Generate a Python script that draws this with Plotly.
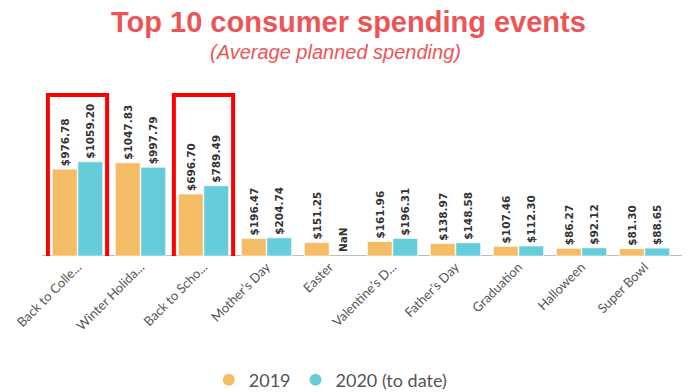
import plotly.graph_objects as go

categories = ["Back to Colle...", "Winter Holida...", "Back to Scho...", "Mother\u2019s Day", "Easter",
              "Valentine\u2019s D...", "Father\u2019s Day", "Graduation", "Halloween", "Super Bowl"]
spend_2019 = [976.78, 1047.83, 696.70, 196.47, 151.25, 161.96, 138.97, 107.46, 86.27, 81.30]
spend_2020 = [1059.20, 997.79, 789.49, 204.74, None, 196.31, 148.58, 112.30, 92.12, 88.65]
series_names = ["2019", "2020 (to date)"]
highlighted = ["Back to Colle...", "Back to Scho..."]

ORANGE = "#F5BC66"
TEAL = "#66CCD9"
RED_TITLE = "#EC5558"
LABEL_FONT = dict(family="DejaVu Sans", size=10.5, color="#333333", weight="bold")


def fmt(v):
    return "NaN" if v is None else f"${v:.2f}"


fig = go.Figure()
for name, vals, col in [(series_names[0], spend_2019, ORANGE), (series_names[1], spend_2020, TEAL)]:
    fig.add_trace(go.Bar(
        x=categories, y=vals, name=name, showlegend=False,
        marker=dict(color=col, line=dict(color="rgba(255,255,255,0.6)", width=1)),
        text=[fmt(v) for v in vals], textposition="outside", textangle=-90,
        constraintext="none", textfont=LABEL_FONT, cliponaxis=False,
    ))
    fig.add_trace(go.Scatter(
        x=[None], y=[None], mode="markers", name=name,
        marker=dict(color=col, size=16, symbol="circle"),
    ))

for cat, v in zip(categories, spend_2020):
    if v is None:
        fig.add_annotation(x=cat, y=0, text="NaN", showarrow=False, textangle=-90,
                           xshift=13, yanchor="bottom", yshift=2, font=LABEL_FONT)

for cat in highlighted:
    i = categories.index(cat)
    fig.add_shape(type="rect", xref="x", yref="y", x0=i - 0.47, x1=i + 0.47, y0=-45, y1=1810,
                  line=dict(color="#FF0000", width=4), fillcolor="rgba(0,0,0,0)", layer="above")

fig.add_shape(type="line", xref="paper", yref="y", x0=-0.0065, x1=1.0095, y0=0, y1=0,
              line=dict(color="#a8a8a8", width=1.5), layer="below")

fig.add_annotation(text="<b>Top 10 consumer spending events</b>", xref="paper", yref="paper",
                   x=0.48, y=1.33, yanchor="middle", showarrow=False,
                   font=dict(family="Liberation Sans", size=29, color=RED_TITLE))
fig.add_annotation(text="<i>(Average planned spending)</i>", xref="paper", yref="paper",
                   x=0.46, y=1.16, yanchor="middle", showarrow=False,
                   font=dict(family="Liberation Sans", size=20, color=RED_TITLE))

fig.update_layout(
    width=697, height=392,
    margin=dict(l=38, r=29, t=72, b=144, autoexpand=False),
    paper_bgcolor="white", plot_bgcolor="white",
    barmode="group", bargap=0.19, bargroupgap=0.03,
    font=dict(family="Lato", color="#555555"),
    legend=dict(orientation="h", x=0.452, xanchor="center", y=-0.705, yanchor="middle",
                font=dict(size=18, color="#555555"), itemsizing="constant"),
)

fig.update_xaxes(range=[-0.5, len(categories) - 0.5], showline=False,
                 tickangle=-45, tickfont=dict(family="Lato", size=13, color="#555555"),
                 showgrid=False, ticks="", automargin=False, zeroline=False)
fig.update_yaxes(range=[0, 1980], visible=False, showgrid=False, zeroline=False)

fig.write_html("out.html")
